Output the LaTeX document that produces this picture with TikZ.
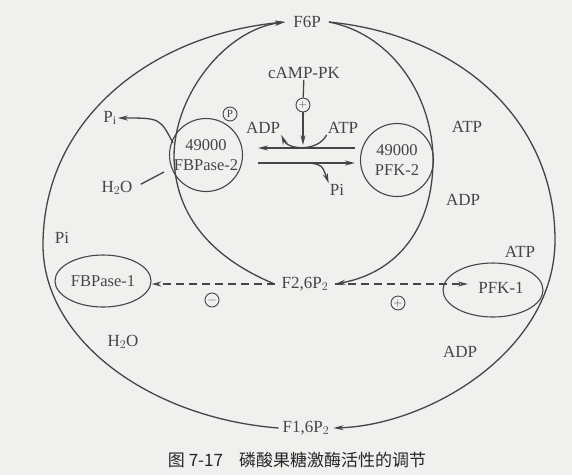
\documentclass[tikz,border=0pt]{standalone}
\usepackage{fontspec}
\setmainfont{Liberation Serif}
\newfontfamily\cjk{Noto Sans CJK SC}
\usetikzlibrary{shapes.geometric, arrows.meta, positioning, calc}
\definecolor{inkGray}{HTML}{454545}
\definecolor{paperGray}{HTML}{F0F0EE}

\begin{document}
\begin{tikzpicture}[x=1pt, y=-1pt,
  lbl/.style={font=\fontsize{17}{20}\selectfont, text=inkGray, inner sep=1pt},
  enz/.style={circle, draw=inkGray, line width=1.1pt, minimum size=73pt,
    inner sep=0pt, align=center, font=\fontsize{16.5}{19.5}\selectfont, text=inkGray},
  enzoval/.style={ellipse, draw=inkGray, line width=1.1pt, inner sep=0pt,
    font=\fontsize{16.5}{19.5}\selectfont, text=inkGray},
  sgn/.style={circle, draw=inkGray, line width=0.9pt, inner sep=0pt,
    minimum size=14pt, font=\fontsize{11}{11}\selectfont, text=inkGray},
  plain/.style={draw=inkGray, line width=1.3pt},
  flow/.style={plain, -{Stealth[length=10pt, width=5pt]}},
  effect/.style={flow, dash pattern=on 8pt off 5pt}]
  \fill[paperGray] (0,0) rectangle (572,475);
  \useasboundingbox (0,0) rectangle (572,475);

  % metabolites
  \node[lbl, inner xsep=8pt] (f6p) at (307,22) {F6P};
  \node[lbl, inner xsep=7pt] (f26p) at (305,284) {F2,6P$_2$};
  \node[lbl, inner xsep=4pt] (f16p) at (306,428) {F1,6P$_2$};

  % bifunctional enzyme
  \node[enz] (fbp2) at (206,155) {49000\\FBPase-2};
  \node[enz] (pfk2) at (397,160) {49000\\PFK-2};
  \node[sgn] (phos) at (230,114) {P};
  \node[lbl] (camp) at (304,73) {cAMP-PK};
  \node[sgn] (act) at (303,105) {$+$};
  \node[lbl] (adp1) at (263,128) {ADP};
  \node[lbl] (atp1) at (343,128) {ATP};
  \node[lbl] (pi1) at (110,118) {P$_\mathrm{i}$};
  \node[lbl] (h2o1) at (117,188) {H$_2$O};
  \node[lbl] (pi2) at (337,190) {Pi};
  \node[lbl] (atp2) at (467,127) {ATP};
  \node[lbl] (adp2) at (463,200) {ADP};

  % glycolysis / gluconeogenesis enzymes
  \node[enzoval, minimum width=96pt, minimum height=52pt] (fbp1) at (103,281) {FBPase-1};
  \node[enzoval, minimum width=100pt, minimum height=54pt] (pfk1) at (493,290) {};
  \node[lbl, inner xsep=10pt] (pfk1lbl) at (501,288) {PFK-1};
  \node[lbl] (pi3) at (62,238) {Pi};
  \node[lbl] (h2o3) at (123,342) {H$_2$O};
  \node[lbl] (atp3) at (520,252) {ATP};
  \node[lbl] (adp3) at (460,352) {ADP};
  \node[sgn, font=\fontsize{13}{13}\selectfont] (inh) at (212,300) {$-$};
  \node[sgn, font=\fontsize{13}{13}\selectfont] (stim) at (398,303) {$+$};

  \node[font=\cjk\fontsize{17}{19}\selectfont, text=black!85] (cap) at (297,460)
    {图 7-17\hspace{16pt}磷酸果糖激酶活性的调节};

  % waypoints
  \coordinate (outL) at (43,245);
  \coordinate (outR) at (555,240);
  \coordinate (fbpL) at (174,157);
  \coordinate (pfkR) at (433,160);
  \coordinate (fbpA) at (173,143);
  \coordinate (fbpB) at (164,172);
  \coordinate (brPi) at (310,163);
  \coordinate (actTip) at (303,145);

  % cycles
  \draw[flow] (f16p.west) .. controls (150,418) and (43,340) .. (outL)
    .. controls (43,120) and (150,35) .. (f6p.west);
  \draw[flow] (f6p.east) .. controls (460,35) and (555,120) .. (outR)
    .. controls (555,350) and (430,425) .. (f16p.east);
  \draw[flow] (f26p.west) .. controls (205,255) and (175,210) .. (fbpL)
    .. controls (174,95) and (225,30) .. (f6p.west);
  \draw[flow] (f6p.east) .. controls (395,35) and (433,100) .. (pfkR)
    .. controls (433,225) and (400,272) .. (f26p.east);

  % side reactions of FBPase-2
  \draw[flow] (fbpA) .. controls (160,118) .. (pi1.east);
  \draw[plain, shorten <=8pt] (h2o1.east) -- (fbpB);

  % interconversion of the enzyme
  \draw[flow, shorten <=5pt, shorten >=15pt] ([yshift=12pt]pfk2.west) -- ([yshift=7pt]fbp2.east);
  \draw[flow, shorten <=15pt, shorten >=5pt] ([yshift=-8pt]fbp2.east) -- ([yshift=-3pt]pfk2.west);
  \draw[flow] (brPi) .. controls (322,165) .. (pi2.north west);
  \draw[flow] (atp1.south west) .. controls (318,152) and (288,150) .. (adp1.south east);
  \draw[plain] (camp) -- (act);
  \draw[flow] (act) -- (actTip);

  % allosteric effects
  \draw[effect] (f26p.west) -- (f26p.west -| fbp1.east);
  \draw[effect] (f26p.east) -- (f26p.east -| pfk1lbl.west);
\end{tikzpicture}
\end{document}
